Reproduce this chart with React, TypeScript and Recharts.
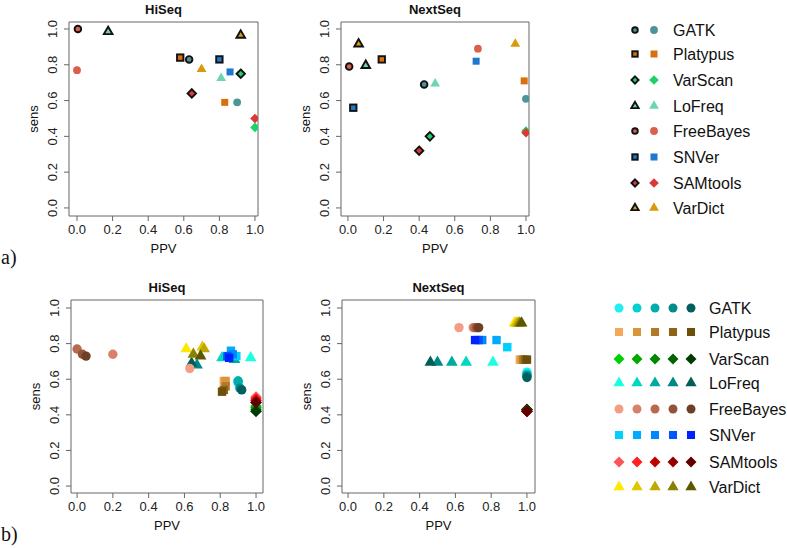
import React from "react";
import { ScatterChart, Scatter, XAxis, YAxis, ReferenceArea } from "recharts";

// tools, their marker shapes and the colours of panel a)
const tools = ["GATK", "Platypus", "VarScan", "LoFreq", "FreeBayes", "SNVer", "SAMtools", "VarDict"];
const shapes = ["circle", "square", "diamond", "triangle", "circle", "square", "diamond", "triangle"];
const toolColors = ["#4f9494", "#d96f0e", "#1ed26a", "#6cd6b4", "#da604c", "#1e78d0", "#d83a3a", "#d89a0c"];

// panel b) shades, light -> dark, per tool
const shadeColors = [
  ["#22f0f0", "#00d0d0", "#00acac", "#008a8a", "#005f5f"],
  ["#f4a859", "#d8963a", "#b07a28", "#8c6418", "#6b4f0a"],
  ["#00d000", "#00a800", "#008800", "#006400", "#003c00"],
  ["#1effe0", "#00d8c0", "#00aaa0", "#008888", "#005f55"],
  ["#f59c85", "#d98068", "#b8694e", "#945238", "#6e3f24"],
  ["#00d0ff", "#00aaff", "#0088ff", "#0055ff", "#0022ff"],
  ["#ff5555", "#ff2222", "#c00000", "#900000", "#600000"],
  ["#ffe800", "#e0c800", "#c0a800", "#8b8000", "#5c5800"],
];

const axisTicks = [0, 0.2, 0.4, 0.6, 0.8, 1.0];

// a) HiSeq
const aHiSeqBoldPPV = [0.63, 0.58, 0.92, 0.175, 0.005, 0.8, 0.645, 0.92];
const aHiSeqBoldSens = [0.83, 0.84, 0.75, 0.985, 1.0, 0.83, 0.64, 0.965];
const aHiSeqPPV = [0.9, 0.83, 1.0, 0.81, 0.0, 0.86, 1.0, 0.7];
const aHiSeqSens = [0.59, 0.59, 0.45, 0.725, 0.77, 0.76, 0.5, 0.775];

// a) NextSeq
const aNextSeqBoldPPV = [0.428, 0.19, 0.46, 0.1, 0.007, 0.03, 0.4, 0.06];
const aNextSeqBoldSens = [0.69, 0.83, 0.4, 0.796, 0.79, 0.56, 0.32, 0.916];
const aNextSeqPPV = [1.0, 0.99, 1.0, 0.49, 0.73, 0.72, 1.0, 0.94];
const aNextSeqSens = [0.61, 0.71, 0.43, 0.695, 0.89, 0.82, 0.42, 0.916];

// b) HiSeq, 5 values per tool
const bHiSeqPPV = [
  [0.9, 0.9, 0.9, 0.91, 0.92],
  [0.82, 0.83, 0.83, 0.82, 0.81],
  [1, 1, 1, 1, 1],
  [0.97, 0.81, 0.88, 0.67, 0.64],
  [0.63, 0.2, 0.0, 0.03, 0.05],
  [0.89, 0.86, 0.87, 0.84, 0.85],
  [1, 1, 1, 1, 1],
  [0.61, 0.7, 0.71, 0.65, 0.69],
];
const bHiSeqSens = [
  [0.59, 0.58, 0.59, 0.55, 0.54],
  [0.59, 0.59, 0.56, 0.54, 0.53],
  [0.45, 0.44, 0.43, 0.42, 0.42],
  [0.72, 0.72, 0.71, 0.68, 0.69],
  [0.66, 0.74, 0.77, 0.74, 0.73],
  [0.73, 0.76, 0.74, 0.73, 0.72],
  [0.5, 0.49, 0.48, 0.47, 0.47],
  [0.77, 0.78, 0.77, 0.74, 0.73],
];

// b) NextSeq
const bNextSeqPPV = [
  [1, 1, 1, 1, 1],
  [0.96, 0.97, 0.98, 0.99, 1.0],
  [1, 1, 1, 1, 1],
  [0.81, 0.66, 0.58, 0.5, 0.46],
  [0.62, 0.7, 0.71, 0.72, 0.73],
  [0.89, 0.83, 0.75, 0.73, 0.71],
  [1, 1, 1, 1, 1],
  [0.93, 0.94, 0.95, 0.96, 0.97],
];
const bNextSeqSens = [
  [0.64, 0.63, 0.62, 0.62, 0.61],
  [0.71, 0.71, 0.71, 0.71, 0.71],
  [0.43, 0.43, 0.43, 0.43, 0.43],
  [0.695, 0.695, 0.695, 0.695, 0.695],
  [0.89, 0.89, 0.89, 0.89, 0.89],
  [0.78, 0.82, 0.82, 0.82, 0.82],
  [0.42, 0.42, 0.42, 0.42, 0.42],
  [0.915, 0.915, 0.915, 0.915, 0.915],
];

const W = 787;
const H = 548;
const SANS = "'Liberation Sans', Arial, sans-serif";

function Marker({ cx, cy, kind, fill, bold, scale = 1 }: any) {
  if (cx == null || cy == null) return null;
  const stroke = bold ? "#111" : "none";
  const sw = bold ? 1.9 : 0;
  if (kind === "circle") {
    const r = (bold ? 3.3 : 3.9) * scale;
    return <circle cx={cx} cy={cy} r={r} fill={fill} stroke={stroke} strokeWidth={sw} />;
  }
  if (kind === "square") {
    const h = (bold ? 3.2 : 3.5) * scale;
    return <rect x={cx - h} y={cy - h} width={2 * h} height={2 * h} fill={fill} stroke={stroke} strokeWidth={sw} />;
  }
  if (kind === "diamond") {
    const h = (bold ? 4.2 : 4.8) * scale;
    return (
      <polygon
        points={`${cx},${cy - h} ${cx + h},${cy} ${cx},${cy + h} ${cx - h},${cy}`}
        fill={fill}
        stroke={stroke}
        strokeWidth={sw}
        strokeLinejoin="miter"
      />
    );
  }
  const a = (bold ? 8.6 : 9.8) * scale;
  const th = a * 0.866;
  return (
    <polygon
      points={`${cx},${cy - (2 * th) / 3} ${cx - a / 2},${cy + th / 3} ${cx + a / 2},${cy + th / 3}`}
      fill={fill}
      stroke={stroke}
      strokeWidth={sw}
      strokeLinejoin="miter"
    />
  );
}

const XTick = (p: any) => (
  <text x={p.x} y={p.y + 10.5} textAnchor="middle" fontSize={13} fill="#222" fontFamily={SANS}>
    {Number(p.payload.value).toFixed(1)}
  </text>
);

const YTick = (p: any) => {
  const bx = p.x - 4.5;
  return (
    <text
      x={bx}
      y={p.y}
      transform={`rotate(-90, ${bx}, ${p.y})`}
      textAnchor="middle"
      fontSize={13}
      fill="#222"
      fontFamily={SANS}
    >
      {Number(p.payload.value).toFixed(1)}
    </text>
  );
};

type Box = { l: number; r: number; t: number; b: number };
type Series = { points: { x: number; y: number }[]; kind: string; fill: string; bold: boolean; scale: number };

function Panel({ box, xDom, yDom, series }: { box: Box; xDom: number[]; yDom: number[]; series: Series[] }) {
  return (
    <div style={{ position: "absolute", left: 0, top: 0 }}>
      <ScatterChart
        width={W}
        height={H}
        margin={{ top: box.t, right: W - box.r, bottom: H - box.b - 30, left: box.l - 30 }}
      >
        <XAxis
          type="number"
          dataKey="x"
          domain={xDom}
          ticks={axisTicks}
          allowDataOverflow
          axisLine={false}
          tickLine={{ stroke: "#666" }}
          tickSize={5}
          height={30}
          interval={0}
          tick={<XTick />}
        />
        <YAxis
          type="number"
          dataKey="y"
          domain={yDom}
          ticks={axisTicks}
          allowDataOverflow
          axisLine={false}
          tickLine={{ stroke: "#666" }}
          tickSize={5}
          width={30}
          interval={0}
          tick={<YTick />}
        />
        <ReferenceArea x1={xDom[0]} x2={xDom[1]} y1={yDom[0]} y2={yDom[1]} fill="none" stroke="#666" strokeWidth={1} fillOpacity={0} />
        {series.map((s, i) => (
          <Scatter
            key={i}
            data={s.points}
            isAnimationActive={false}
            shape={(p: any) => <Marker cx={p.cx} cy={p.cy} kind={s.kind} fill={s.fill} bold={s.bold} scale={s.scale} />}
          />
        ))}
      </ScatterChart>
    </div>
  );
}

function seriesA(boldPPV: number[], boldSens: number[], ppv: number[], sens: number[]): Series[] {
  const out: Series[] = [];
  tools.forEach((_, i) => {
    out.push({ points: [{ x: boldPPV[i], y: boldSens[i] }], kind: shapes[i], fill: toolColors[i], bold: true, scale: 1 });
  });
  tools.forEach((_, i) => {
    out.push({ points: [{ x: ppv[i], y: sens[i] }], kind: shapes[i], fill: toolColors[i], bold: false, scale: 1 });
  });
  return out;
}

function seriesB(ppv: number[][], sens: number[][]): Series[] {
  const out: Series[] = [];
  tools.forEach((_, i) => {
    ppv[i].forEach((v, j) => {
      out.push({ points: [{ x: v, y: sens[i][j] }], kind: shapes[i], fill: shadeColors[i][j], bold: false, scale: 1.2 });
    });
  });
  return out;
}

const aHiSeqBox = { l: 69, r: 258, t: 22, b: 216 };
const aNextSeqBox = { l: 341, r: 529, t: 22, b: 216 };
const bHiSeqBox = { l: 71, r: 263, t: 300, b: 493 };
const bNextSeqBox = { l: 342, r: 535, t: 300, b: 493 };

function Titles() {
  const t = (x: number, y: number, s: string, bold = false, size = 13) => (
    <text x={x} y={y} textAnchor="middle" fontSize={size} fontWeight={bold ? "bold" : "normal"} fill="#111" fontFamily={SANS}>
      {s}
    </text>
  );
  const sens = (x: number, y: number) => (
    <text x={x} y={y} transform={`rotate(-90, ${x}, ${y})`} textAnchor="middle" fontSize={13} fill="#111" fontFamily={SANS}>
      sens
    </text>
  );
  const boxes = [aHiSeqBox, aNextSeqBox, bHiSeqBox, bNextSeqBox];
  const names = ["HiSeq", "NextSeq", "HiSeq", "NextSeq"];
  return (
    <g>
      {boxes.map((b, i) => (
        <g key={i}>
          {t((b.l + b.r) / 2, b.t - 8, names[i], true)}
          {t((b.l + b.r) / 2, b.b + 37, "PPV")}
          {sens(b.l - 31, (b.t + b.b) / 2)}
        </g>
      ))}
      <text x={1} y={264} fontSize={20} fill="#111" fontFamily="'Liberation Serif', serif">
        a)
      </text>
      <text x={1} y={541} fontSize={20} fill="#111" fontFamily="'Liberation Serif', serif">
        b)
      </text>
    </g>
  );
}

function Legends() {
  const rowsA = [30, 54, 80, 106, 131, 157, 183, 208];
  const rowsB = [308, 332, 359, 383, 409, 435, 462, 487];
  const colsB = [619, 637, 655, 673, 691];
  return (
    <g>
      {tools.map((name, i) => (
        <g key={"a" + i}>
          <Marker cx={635} cy={rowsA[i]} kind={shapes[i]} fill={toolColors[i]} bold scale={0.85} />
          <Marker cx={654} cy={rowsA[i]} kind={shapes[i]} fill={toolColors[i]} bold={false} scale={1} />
          <text x={673} y={rowsA[i] + 5.5} fontSize={16} fill="#111" fontFamily={SANS}>
            {name}
          </text>
        </g>
      ))}
      {tools.map((name, i) => (
        <g key={"b" + i}>
          {colsB.map((cx, j) => (
            <Marker key={j} cx={cx} cy={rowsB[i]} kind={shapes[i]} fill={shadeColors[i][j]} bold={false} scale={1.15} />
          ))}
          <text x={709} y={rowsB[i] + 5.5} fontSize={16} fill="#111" fontFamily={SANS}>
            {name}
          </text>
        </g>
      ))}
    </g>
  );
}

export default function App() {
  return (
    <div style={{ position: "absolute", left: 0, top: 0, width: W, height: H, background: "#fff" }}>
      <Panel box={aHiSeqBox} xDom={[-0.045, 1.017]} yDom={[-0.045, 1.039]} series={seriesA(aHiSeqBoldPPV, aHiSeqBoldSens, aHiSeqPPV, aHiSeqSens)} />
      <Panel box={aNextSeqBox} xDom={[-0.039, 1.017]} yDom={[-0.045, 1.039]} series={seriesA(aNextSeqBoldPPV, aNextSeqBoldSens, aNextSeqPPV, aNextSeqSens)} />
      <Panel box={bHiSeqBox} xDom={[-0.034, 1.039]} yDom={[-0.039, 1.045]} series={seriesB(bHiSeqPPV, bHiSeqSens)} />
      <Panel box={bNextSeqBox} xDom={[-0.034, 1.045]} yDom={[-0.039, 1.045]} series={seriesB(bNextSeqPPV, bNextSeqSens)} />
      <svg width={W} height={H} style={{ position: "absolute", left: 0, top: 0 }}>
        <Titles />
        <Legends />
      </svg>
    </div>
  );
}
